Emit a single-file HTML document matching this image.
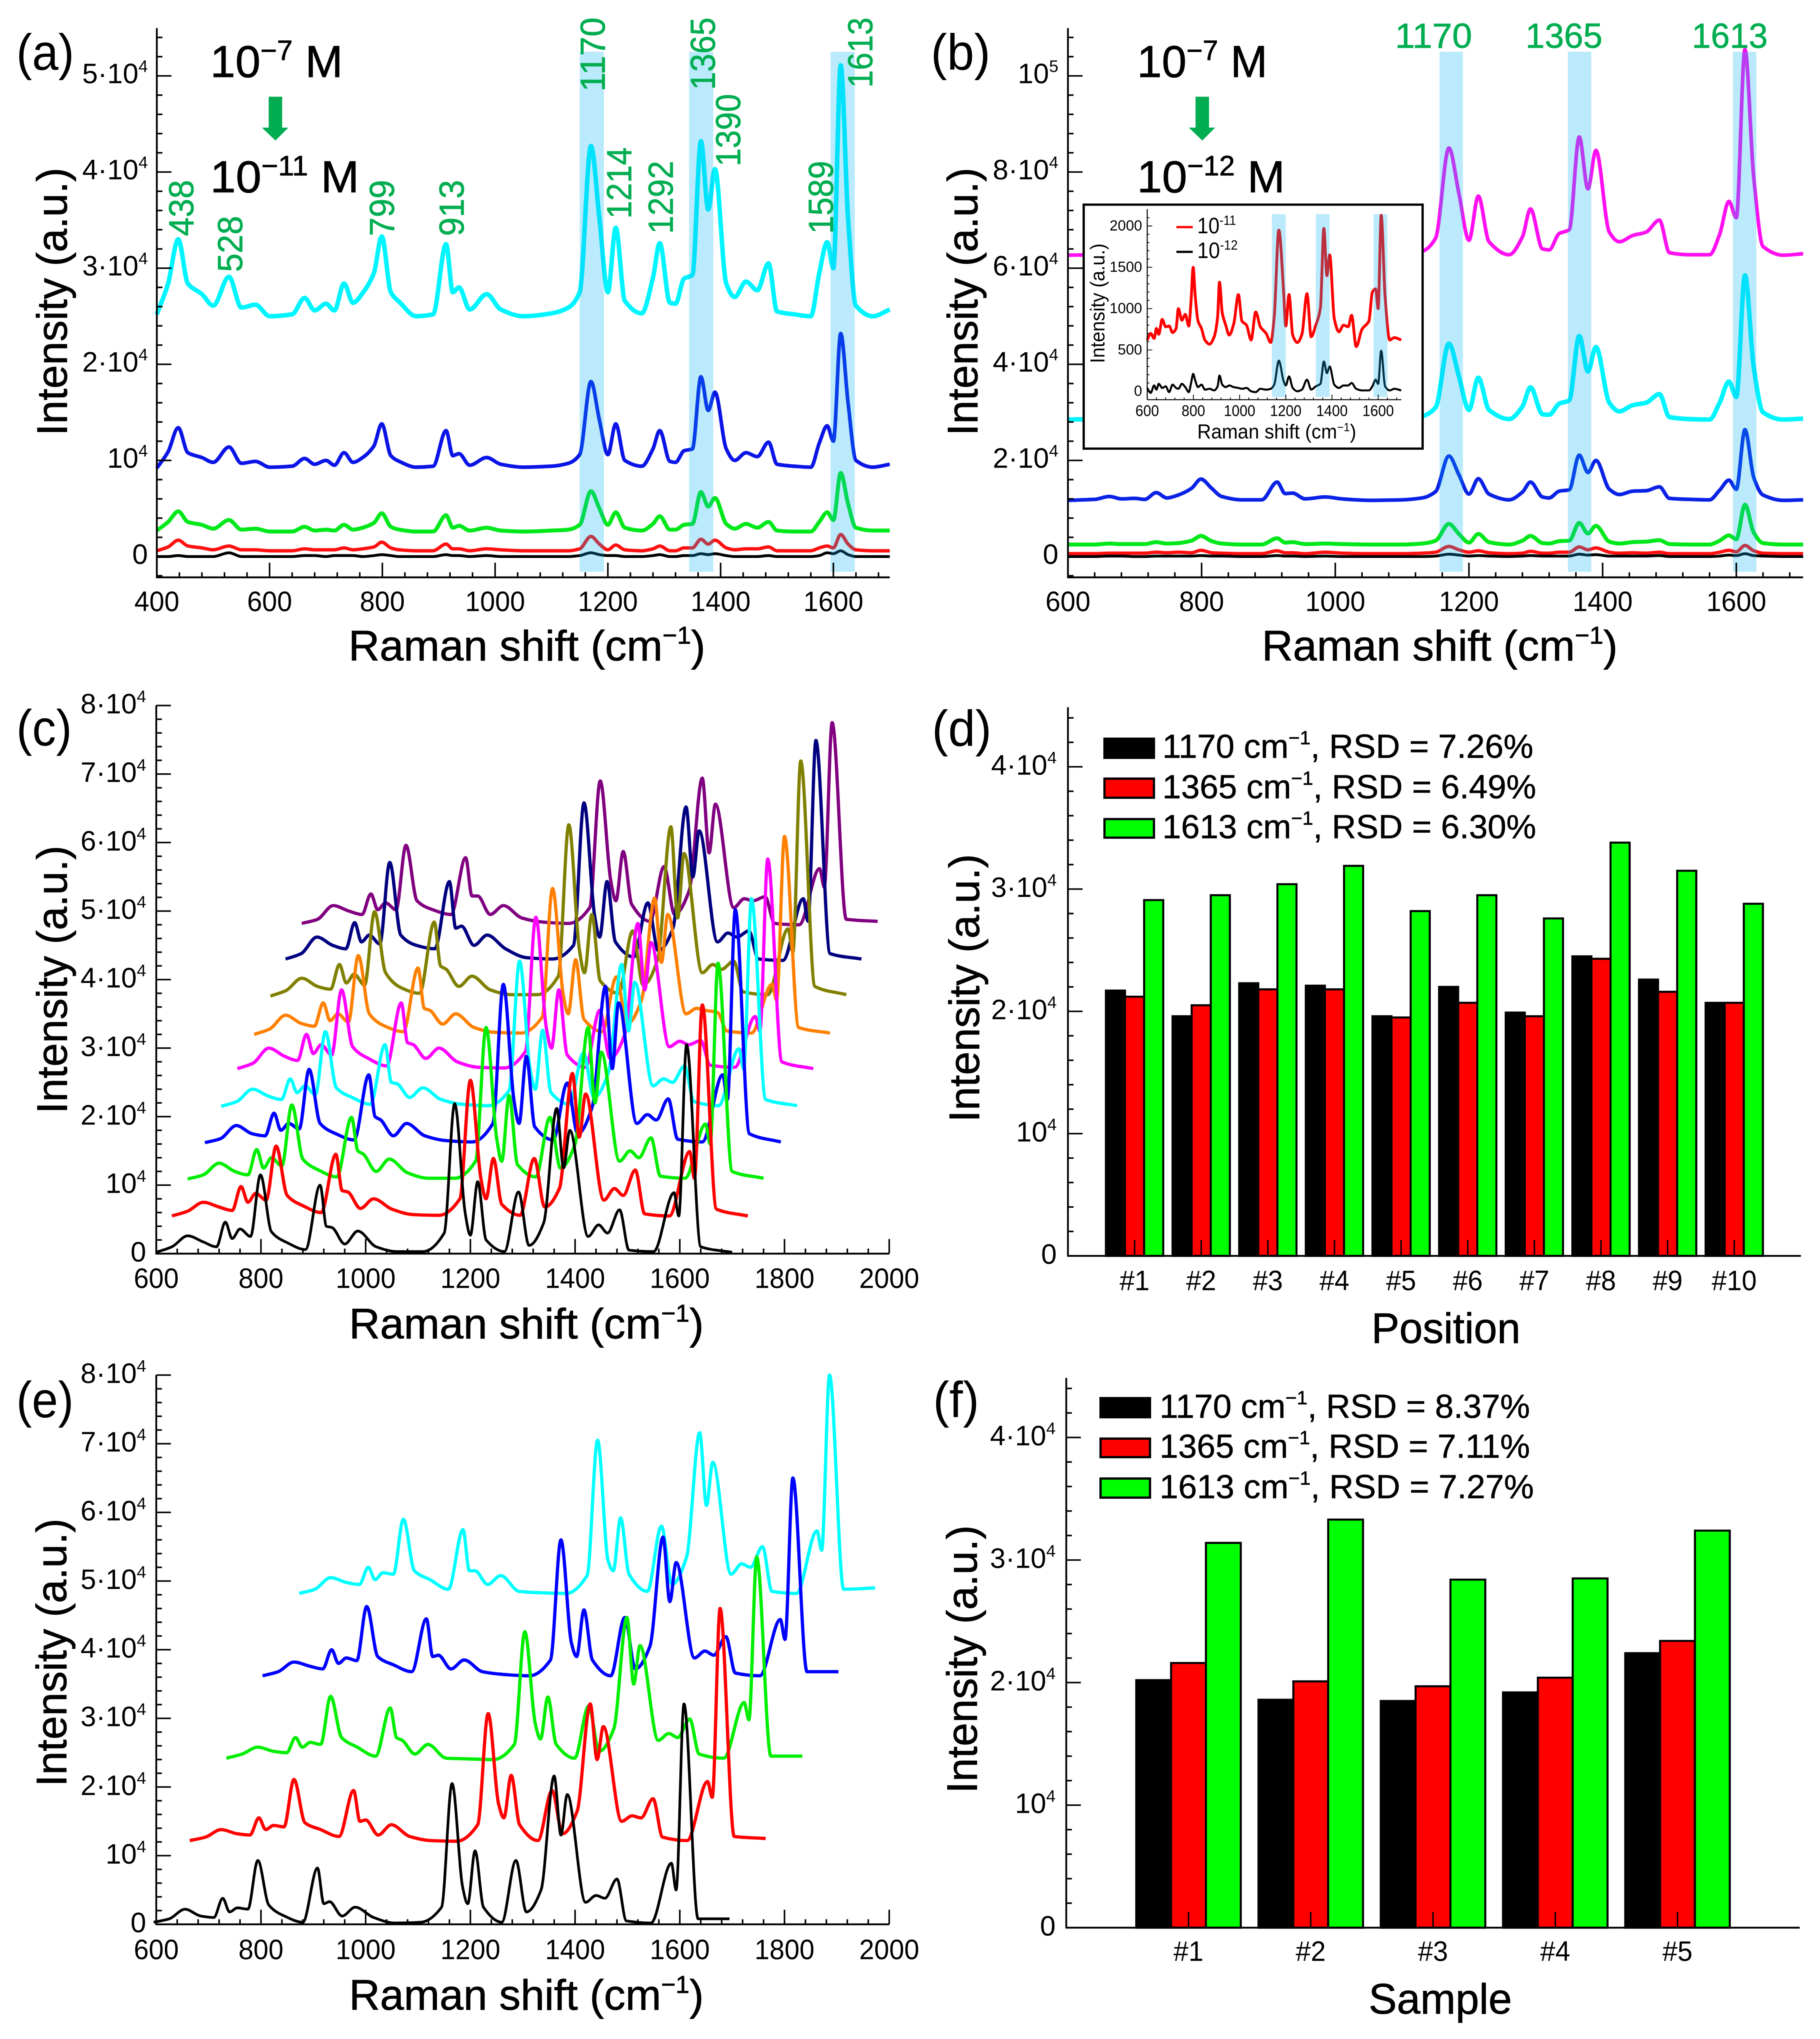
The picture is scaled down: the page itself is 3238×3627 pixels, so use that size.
<!DOCTYPE html>
<html lang="en">
<head>
<meta charset="utf-8">
<title>SERS Raman spectra and reproducibility figure</title>
<style>
html,body{margin:0;padding:0;background:#fff;}
svg{display:block;font-family:"Liberation Sans",Arial,sans-serif;filter:blur(0.7px);}
.letter{font-size:90px;fill:#000;}
.axis-title{font-size:76px;fill:#000;stroke:#000;stroke-width:.8px;}
.conc{font-size:80px;fill:#000;stroke:#000;stroke-width:.8px;}
.peak{font-size:62px;fill:#00ad50;stroke:#00ad50;stroke-width:.7px;}
.legend-text{font-size:59px;fill:#000;stroke:#000;stroke-width:.6px;}
</style>
</head>
<body>
<svg id="figure" xmlns="http://www.w3.org/2000/svg" width="3238" height="3627" viewBox="0 0 3238 3627">
  <rect x="0" y="0" width="3238" height="3627" fill="#fff"/>

  <g id="panel-a"></g>
  <g id="panel-b"></g>
  <g id="panel-c"></g>
  <g id="panel-d"></g>
  <g id="panel-e"></g>
  <g id="panel-f"></g>

  <g>
    <text class="letter" x="29" y="124" textLength="103" lengthAdjust="spacingAndGlyphs">(a)</text>
    <text class="letter" x="1656" y="124" textLength="106" lengthAdjust="spacingAndGlyphs">(b)</text>
    <text class="letter" x="29" y="1326" textLength="99" lengthAdjust="spacingAndGlyphs">(c)</text>
    <text class="letter" x="1658" y="1327" textLength="106" lengthAdjust="spacingAndGlyphs">(d)</text>
    <text class="letter" x="29" y="2521" textLength="102" lengthAdjust="spacingAndGlyphs">(e)</text>
    <text class="letter" x="1660" y="2521" textLength="82" lengthAdjust="spacingAndGlyphs">(f)</text>
  </g>

  <g>
    <text class="axis-title" x="620" y="1175" textLength="635" lengthAdjust="spacingAndGlyphs">Raman shift (cm<tspan font-size="44" dy="-30">−1</tspan><tspan dy="30">)</tspan></text>
    <text class="axis-title" x="2245" y="1175" textLength="633" lengthAdjust="spacingAndGlyphs">Raman shift (cm<tspan font-size="44" dy="-30">−1</tspan><tspan dy="30">)</tspan></text>
    <text class="axis-title" x="621" y="2381" textLength="631" lengthAdjust="spacingAndGlyphs">Raman shift (cm<tspan font-size="44" dy="-30">−1</tspan><tspan dy="30">)</tspan></text>
    <text class="axis-title" x="621" y="3575" textLength="631" lengthAdjust="spacingAndGlyphs">Raman shift (cm<tspan font-size="44" dy="-30">−1</tspan><tspan dy="30">)</tspan></text>
    <text class="axis-title" x="2440" y="2389" textLength="265" lengthAdjust="spacingAndGlyphs">Position</text>
    <text class="axis-title" x="2435" y="3582" textLength="255" lengthAdjust="spacingAndGlyphs">Sample</text>
    <text class="axis-title" transform="translate(119,775) rotate(-90)" textLength="477" lengthAdjust="spacingAndGlyphs">Intensity (a.u.)</text>
    <text class="axis-title" transform="translate(1739,775) rotate(-90)" textLength="477" lengthAdjust="spacingAndGlyphs">Intensity (a.u.)</text>
    <text class="axis-title" transform="translate(119,1981) rotate(-90)" textLength="477" lengthAdjust="spacingAndGlyphs">Intensity (a.u.)</text>
    <text class="axis-title" transform="translate(1742,1996) rotate(-90)" textLength="477" lengthAdjust="spacingAndGlyphs">Intensity (a.u.)</text>
    <text class="axis-title" transform="translate(118,3178) rotate(-90)" textLength="477" lengthAdjust="spacingAndGlyphs">Intensity (a.u.)</text>
    <text class="axis-title" transform="translate(1738,3190) rotate(-90)" textLength="477" lengthAdjust="spacingAndGlyphs">Intensity (a.u.)</text>
  </g>

  <g>
    <text class="conc" x="374" y="137" textLength="236" lengthAdjust="spacingAndGlyphs">10<tspan font-size="50" dy="-30">−7</tspan><tspan dy="30"> M</tspan></text>
    <polygon points="478,172 502,172 502,227 513,227 490,250 466,227 478,227" fill="#00ad50"/>
    <text class="conc" x="374" y="342" textLength="265" lengthAdjust="spacingAndGlyphs">10<tspan font-size="50" dy="-30">−11</tspan><tspan dy="30"> M</tspan></text>
  </g>
  <g>
    <text class="conc" x="2023" y="137" textLength="232" lengthAdjust="spacingAndGlyphs">10<tspan font-size="50" dy="-30">−7</tspan><tspan dy="30"> M</tspan></text>
    <polygon points="2127,172 2151,172 2151,227 2162,227 2139,250 2115,227 2127,227" fill="#00ad50"/>
    <text class="conc" x="2023" y="342" textLength="263" lengthAdjust="spacingAndGlyphs">10<tspan font-size="50" dy="-30">−12</tspan><tspan dy="30"> M</tspan></text>
  </g>

  <g>
    <text class="peak" transform="translate(344,420) rotate(-90)" textLength="100" lengthAdjust="spacingAndGlyphs">438</text>
    <text class="peak" transform="translate(431,484) rotate(-90)" textLength="100" lengthAdjust="spacingAndGlyphs">528</text>
    <text class="peak" transform="translate(701,420) rotate(-90)" textLength="100" lengthAdjust="spacingAndGlyphs">799</text>
    <text class="peak" transform="translate(825,420) rotate(-90)" textLength="100" lengthAdjust="spacingAndGlyphs">913</text>
    <text class="peak" transform="translate(1076,163) rotate(-90)" textLength="132" lengthAdjust="spacingAndGlyphs">1170</text>
    <text class="peak" transform="translate(1123,389) rotate(-90)" textLength="127" lengthAdjust="spacingAndGlyphs">1214</text>
    <text class="peak" transform="translate(1197,416) rotate(-90)" textLength="130" lengthAdjust="spacingAndGlyphs">1292</text>
    <text class="peak" transform="translate(1272,160) rotate(-90)" textLength="129" lengthAdjust="spacingAndGlyphs">1365</text>
    <text class="peak" transform="translate(1317,296) rotate(-90)" textLength="129" lengthAdjust="spacingAndGlyphs">1390</text>
    <text class="peak" transform="translate(1482,416) rotate(-90)" textLength="130" lengthAdjust="spacingAndGlyphs">1589</text>
    <text class="peak" transform="translate(1552,156) rotate(-90)" textLength="125" lengthAdjust="spacingAndGlyphs">1613</text>
  </g>
  <g>
    <text class="peak" x="2482" y="85" textLength="137" lengthAdjust="spacingAndGlyphs">1170</text>
    <text class="peak" x="2714" y="85" textLength="137" lengthAdjust="spacingAndGlyphs">1365</text>
    <text class="peak" x="3010" y="85" textLength="135" lengthAdjust="spacingAndGlyphs">1613</text>
  </g>

  <g>
    <rect x="1965" y="1314" width="88" height="34" fill="#000" stroke="#000" stroke-width="4"/>
    <text class="legend-text" x="2068" y="1348" textLength="660" lengthAdjust="spacingAndGlyphs">1170 cm<tspan font-size="34" dy="-24">−1</tspan><tspan dy="24">, RSD = 7.26%</tspan></text>
    <rect x="1965" y="1385" width="88" height="34" fill="#ff0000" stroke="#000" stroke-width="4"/>
    <text class="legend-text" x="2068" y="1420" textLength="665" lengthAdjust="spacingAndGlyphs">1365 cm<tspan font-size="34" dy="-24">−1</tspan><tspan dy="24">, RSD = 6.49%</tspan></text>
    <rect x="1965" y="1457" width="88" height="33" fill="#00ff00" stroke="#000" stroke-width="4"/>
    <text class="legend-text" x="2068" y="1491" textLength="665" lengthAdjust="spacingAndGlyphs">1613 cm<tspan font-size="34" dy="-24">−1</tspan><tspan dy="24">, RSD = 6.30%</tspan></text>
  </g>
  <g>
    <rect x="1958" y="2487" width="88" height="34" fill="#000" stroke="#000" stroke-width="4"/>
    <text class="legend-text" x="2063" y="2522" textLength="659" lengthAdjust="spacingAndGlyphs">1170 cm<tspan font-size="34" dy="-24">−1</tspan><tspan dy="24">, RSD = 8.37%</tspan></text>
    <rect x="1958" y="2559" width="88" height="33" fill="#ff0000" stroke="#000" stroke-width="4"/>
    <text class="legend-text" x="2063" y="2593" textLength="659" lengthAdjust="spacingAndGlyphs">1365 cm<tspan font-size="34" dy="-24">−1</tspan><tspan dy="24">, RSD = 7.11%</tspan></text>
    <rect x="1958" y="2630" width="88" height="34" fill="#00ff00" stroke="#000" stroke-width="4"/>
    <text class="legend-text" x="2063" y="2665" textLength="666" lengthAdjust="spacingAndGlyphs">1613 cm<tspan font-size="34" dy="-24">−1</tspan><tspan dy="24">, RSD = 7.27%</tspan></text>
  </g>

  <g id="inset">
    <rect x="1928" y="364" width="603" height="434" fill="#fff" stroke="#000" stroke-width="4"/>
    <g id="inset-plot"></g>
    <text x="2130" y="780" font-size="36" textLength="283" lengthAdjust="spacingAndGlyphs">Raman shift (cm<tspan font-size="21" dy="-13">−1</tspan><tspan dy="13">)</tspan></text>
    <text transform="translate(1965,646) rotate(-90)" font-size="36" textLength="213" lengthAdjust="spacingAndGlyphs">Intensity (a.u.)</text>
    <line x1="2093" y1="404" x2="2122" y2="404" stroke="#ff0000" stroke-width="4"/>
    <text x="2130" y="415" font-size="40" textLength="69" lengthAdjust="spacingAndGlyphs">10<tspan font-size="24" dy="-15">-11</tspan></text>
    <line x1="2093" y1="448" x2="2122" y2="448" stroke="#000" stroke-width="4"/>
    <text x="2130" y="459" font-size="40" textLength="72" lengthAdjust="spacingAndGlyphs">10<tspan font-size="24" dy="-15">-12</tspan></text>
  </g>
</svg>

<script>
/* ---------- Panel (a): wavenumber axis and intensities (units of 10^4) ---------- */
const ramanTicksA = [400, 600, 800, 1000, 1200, 1400, 1600];
const intensityTicksA = [0, 1, 2, 3, 4, 5];
const shiftA = [400,420,438,455,480, 500,528,550,575,600, 640,662,680,700,715, 732,748,765,785,799, 815,830,860,890,913, 925,936,955,985,1010, 1050,1100,1130,1150,1170, 1185,1200,1214,1230,1260, 1280,1292,1310,1320,1335, 1350,1365,1378,1390,1410, 1425,1445,1465,1485,1500, 1530,1560,1575,1589,1600, 1613,1626,1640,1670,1700];
const seriesACyan = [2.52,2.84,3.30,2.84,2.73, 2.61,2.91,2.59,2.62,2.50, 2.52,2.69,2.56,2.63,2.56, 2.84,2.64,2.74,2.95,3.33, 2.75,2.65,2.50,2.52,3.25, 2.75,2.80,2.57,2.73,2.57, 2.50,2.53,2.59,2.75,4.27, 3.52,2.75,3.42,2.66,2.53, 2.90,3.26,2.64,2.63,2.89, 2.93,4.32,3.61,4.03,2.84, 2.70,2.86,2.77,3.05,2.55, 2.52,2.50,2.95,3.27,3.00, 5.11,3.52,2.61,2.50,2.57];
const seriesABlue = [.92,1.09,1.34,1.08,1.03, .98,1.14,.97,.99,.93, .94,1.02,.96,1.00,.95, 1.08,.98,1.03,1.15,1.38, 1.05,.99,.93,.94,1.31, 1.05,1.07,.95,1.03,.96, .93,.94,.97,1.06,1.82, 1.42,1.06,1.38,1.00,.94, 1.12,1.31,.99,.98,1.10, 1.12,1.87,1.52,1.71,1.12, 1.00,1.08,1.04,1.19,.96, .94,.93,1.18,1.36,1.20, 2.32,1.60,1.00,.93,.96];
const seriesAGreen = [.27,.36,.47,.36,.33, .29,.38,.28,.29,.26, .26,.31,.27,.28,.27, .33,.28,.30,.35,.45, .31,.28,.26,.26,.43, .30,.32,.27,.30,.27, .26,.27,.28,.33,.68, .50,.33,.46,.30,.27, .34,.42,.28,.28,.33, .34,.67,.52,.61,.34, .29,.34,.30,.36,.27, .26,.26,.36,.46,.38, .87,.55,.30,.27,.27];
const seriesARed = [.06,.10,.17,.11,.09, .07,.11,.07,.07,.06, .06,.08,.07,.07,.07, .09,.07,.08,.10,.15, .09,.07,.06,.06,.13, .08,.08,.06,.08,.07, .06,.06,.06,.08,.21, .13,.07,.12,.07,.06, .08,.11,.06,.06,.09, .09,.18,.13,.17,.09, .07,.08,.08,.10,.06, .06,.06,.09,.11,.09, .23,.13,.07,.06,.06];
const seriesABlack = [0,0,.01,0,0, 0,.04,0,0,0, 0,.01,.01,0,.01, .01,.01,0,.01,.02, .01,0,0,0,.02, .01,.01,0,.01,0, 0,0,0,.01,.04, .02,.01,.01,0,0, .01,.02,0,0,.01, .01,.03,.02,.03,.01, 0,0,0,.01,0, 0,0,.01,.04,.03, .06,.02,0,0,0];
const bandsA = [[1150,1193],[1344,1387],[1595,1638]];

/* ---------- Panel (b) ---------- */
const ramanTicksB = [600, 800, 1000, 1200, 1400, 1600];
const intensityTicksB = [0, 2, 4, 6, 8, 10];
const shiftB = [600,640,662,680,700, 715,732,748,765,785, 799,815,830,860,890, 913,925,936,955,985, 1010,1050,1100,1130,1150, 1170,1185,1200,1214,1230, 1260,1280,1292,1310,1320, 1335,1350,1365,1378,1390, 1410,1425,1445,1465,1485, 1500,1530,1560,1575,1589, 1600,1613,1626,1640,1670, 1700];
const seriesBMagenta = [6.27,6.28,6.33,6.29,6.30, 6.28,6.40,6.30,6.35,6.34, 6.60,6.35,6.31,6.27,6.27, 6.55,6.35,6.38,6.28,6.32, 6.28,6.27,6.28,6.35,6.62, 8.50,7.55,6.58,7.50,6.55, 6.28,6.65,7.23,6.40,6.38, 6.72,6.80,8.73,7.65,8.45, 6.75,6.55,6.68,6.75,7.00, 6.32,6.28,6.28,6.70,7.39, 7.05,10.55,7.90,6.45,6.27, 6.30];
const seriesBCyan = [2.85,2.86,2.90,2.87,2.88, 2.86,2.94,2.87,2.91,2.90, 3.10,2.90,2.88,2.85,2.85, 3.05,2.92,2.93,2.85,2.89, 2.86,2.85,2.86,2.92,3.10, 4.43,3.75,3.05,3.72,3.05, 2.86,3.12,3.52,2.96,2.95, 3.18,3.25,4.59,3.85,4.36, 3.20,3.02,3.15,3.20,3.38, 2.90,2.86,2.85,3.20,3.64, 3.32,5.85,3.95,3.00,2.85, 2.87];
const seriesBBlue = [1.17,1.19,1.25,1.20,1.21, 1.19,1.33,1.22,1.28,1.42, 1.61,1.42,1.25,1.18,1.18, 1.55,1.31,1.32,1.20,1.24, 1.20,1.17,1.18,1.22,1.35, 2.09,1.70,1.30,1.62,1.30, 1.18,1.34,1.55,1.24,1.22, 1.36,1.39,2.11,1.75,2.00, 1.40,1.29,1.36,1.37,1.45, 1.21,1.19,1.18,1.38,1.59, 1.40,2.64,1.65,1.28,1.17, 1.18];
const seriesBGreen = [.25,.25,.27,.26,.26, .26,.30,.27,.28,.33, .43,.32,.27,.25,.25, .38,.29,.30,.26,.27, .26,.25,.25,.27,.33, .68,.47,.29,.47,.30, .25,.33,.43,.28,.27, .32,.33,.70,.48,.64, .31,.27,.30,.31,.34, .26,.25,.25,.33,.44, .36,1.08,.50,.28,.25, .25];
const seriesBRed = [.06,.06,.07,.07,.07, .07,.09,.08,.09,.08, .13,.08,.07,.06,.06, .12,.08,.08,.06,.09, .07,.06,.06,.07,.09, .21,.14,.09,.12,.08, .06,.07,.11,.07,.07, .09,.09,.20,.14,.18, .09,.07,.08,.07,.09, .06,.06,.06,.09,.13, .10,.23,.12,.07,.06, .06];
const seriesBBlack = [0,0,.01,.01,0, 0,.01,.01,.01,.01, .02,.01,.01,0,0, .02,.01,.01,0,.01, 0,0,0,0,.01, .05,.03,.01,.02,.01, 0,.01,.02,.01,.01, .01,.01,.05,.03,.04, .01,.01,.01,.01,.02, 0,0,0,.01,.03, .02,.06,.02,.01,0, 0];
const bandsB = [[1156,1191],[1348,1383],[1595,1630]];

/* ---------- Inset of panel (b): counts ---------- */
const ramanTicksInset = [600, 800, 1000, 1200, 1400, 1600];
const countTicksInset = [0, 500, 1000, 1500, 2000];
const shiftInset = [600,615,630,640,650, 665,680,695,710,725, 735,750,765,780,790, 799,808,820,835,850, 870,890,905,913,925, 940,955,975,995,1010, 1030,1050,1070,1090,1115, 1135,1150,1170,1190,1200, 1214,1230,1250,1270,1292, 1310,1330,1350,1365,1378, 1390,1410,1430,1450,1470, 1485,1505,1530,1560,1575, 1589,1600,1613,1630,1650, 1670,1700];
const insetRed = [620,700,640,760,690, 870,780,790,710,760, 1000,860,930,790,1100, 1500,1150,850,760,620, 570,660,900,1320,950, 800,680,820,1170,850, 800,620,960,780,700, 590,900,1950,1240,790, 1170,680,590,690,1180, 660,800,1010,1970,1400, 1650,880,720,800,780, 920,540,750,850,1200, 1240,1000,2130,1150,620, 650,620];
const insetBlack = [40,-20,70,20,90, 40,60,-10,80,40, 30,90,50,-10,100, 210,130,50,80,20, 30,10,60,190,80, 50,70,50,40,30, 40,0,-10,30,20, 30,80,370,130,70, 180,40,0,20,140, 20,60,90,360,220, 300,80,40,70,70, 100,30,10,10,60, 140,90,490,60,10, 30,10];
const bandsInset = [[1140,1200],[1330,1390],[1580,1640]];

/* ---------- Panels (c) and (e): stacked spectra on a common wavenumber grid ---------- */
const ramanTicksStack = [600, 800, 1000, 1200, 1400, 1600, 1800, 2000];
const intensityTicksStack = [0, 1, 2, 3, 4, 5, 6, 7, 8];
const shiftStack = [600,630,660,690,715, 732,745,760,780,799, 820,850,885,913,925, 936,960,985,1020,1060, 1110,1150,1170,1190,1200, 1214,1230,1265,1292,1312, 1340,1365,1378,1390,1425, 1445,1462,1485,1503,1550, 1589,1598,1613,1640,1700];
const stackShiftC = [0, 30, 60, 93, 124, 155, 187, 218, 247, 278];
const stackC1 = [.02,.10,.26,.17,.10, .46,.22,.36,.25,1.15, .32,.16,.06,1.00,.40, .38,.14,.33,.10,.03, .03,.30,2.19,.60,.27, 1.05,.20,.03,.90,.12, .45,2.12,1.25,1.80,.25, .42,.30,.64,.05,.03, .89,.55,3.05,.10,.02];
const stackC2 = [.55,.62,.75,.68,.63, .98,.75,.88,.78,1.57, .85,.70,.60,1.45,.92, .90,.66,.80,.65,.57, .56,.80,2.53,1.10,.80, 1.39,.72,.56,1.39,.68, .95,2.63,1.70,2.33,.78, .95,.85,1.22,.58,.55, 1.49,1.10,3.63,.65,.55];
const stackC3 = [1.09,1.15,1.32,1.20,1.15, 1.52,1.25,1.40,1.28,2.17, 1.38,1.22,1.12,1.99,1.50, 1.45,1.20,1.38,1.18,1.10, 1.10,1.35,3.30,1.70,1.35, 2.31,1.30,1.12,1.99,1.25, 1.60,3.30,2.20,2.94,1.35, 1.50,1.40,1.69,1.13,1.10, 1.89,1.60,4.24,1.20,1.10];
const stackC4 = [1.62,1.68,1.87,1.75,1.72, 2.05,1.80,1.90,1.82,2.69, 1.90,1.75,1.66,2.61,2.00, 1.95,1.72,1.90,1.72,1.65, 1.63,1.90,3.93,2.25,1.90, 2.88,1.85,1.66,2.49,1.75, 2.15,3.90,2.70,3.66,1.90, 2.03,1.95,2.26,1.67,1.63, 2.61,2.25,5.02,1.75,1.63];
const stackC5 = [2.15,2.22,2.40,2.30,2.25, 2.55,2.35,2.45,2.32,3.24, 2.42,2.28,2.18,3.05,2.50, 2.48,2.28,2.42,2.25,2.18, 2.16,2.38,4.27,2.70,2.40, 3.26,2.35,2.18,2.93,2.28, 2.65,4.22,3.25,3.96,2.45, 2.55,2.50,2.74,2.22,2.16, 2.99,2.70,5.18,2.25,2.16];
const stackC6 = [2.70,2.78,3.00,2.88,2.82, 3.20,2.92,3.05,2.90,3.85, 3.02,2.85,2.74,3.66,3.08, 3.05,2.85,3.00,2.80,2.72, 2.71,2.95,4.91,3.30,3.00, 3.85,2.90,2.72,3.55,2.85, 3.20,4.82,3.85,4.54,3.02, 3.10,3.05,3.11,2.75,2.72, 3.46,3.25,5.76,2.80,2.70];
const stackC7 = [3.20,3.28,3.48,3.36,3.32, 3.66,3.40,3.50,3.38,4.35, 3.50,3.32,3.24,4.17,3.58, 3.55,3.35,3.50,3.30,3.23, 3.22,3.45,5.33,3.80,3.50, 4.29,3.42,3.24,4.04,3.35, 3.70,5.19,4.25,4.95,3.50, 3.58,3.55,3.52,3.25,3.22, 3.93,3.70,6.09,3.30,3.22];
const stackC8 = [3.76,3.84,4.02,3.90,3.86, 4.22,3.95,4.08,3.92,4.99, 4.10,3.88,3.80,4.84,4.20, 4.15,3.90,4.05,3.85,3.78, 3.78,4.05,6.26,4.45,4.10, 4.95,3.98,3.80,4.71,3.92, 4.30,6.23,4.90,5.84,4.10, 4.22,4.15,4.27,3.82,3.78, 4.74,4.40,7.19,3.90,3.78];
const stackC9 = [4.30,4.38,4.62,4.50,4.45, 4.83,4.55,4.65,4.52,5.71, 4.65,4.50,4.45,5.43,4.75, 4.78,4.50,4.65,4.45,4.32, 4.30,4.50,6.58,4.95,4.62, 5.43,4.55,4.33,5.12,4.42, 4.75,6.52,5.50,6.17,4.55, 4.68,4.62,4.71,4.30,4.28, 5.18,4.85,7.49,4.38,4.30];
const stackC10 = [4.82,4.88,5.08,5.00,4.95, 5.25,5.02,5.12,5.02,5.96, 5.15,5.02,4.95,5.78,5.22, 5.22,4.95,5.08,4.90,4.84, 4.82,5.05,6.90,5.45,5.15, 5.87,5.10,4.85,5.65,4.95, 5.30,6.94,5.85,6.56,5.05, 5.18,5.15,5.21,4.82,4.80, 5.62,5.35,7.75,4.88,4.85];
const stackShiftE = [-5, 64, 134, 203, 273];
const stackE1 = [.03,.08,.22,.12,.10, .38,.18,.24,.22,.93, .28,.12,.03,.82,.30, .33,.12,.25,.10,.02, .03,.25,2.05,.55,.30, 1.07,.25,.03,.93,.18, .50,2.16,1.30,1.89,.32, .42,.38,.66,.05,.02, .89,.50,3.21,.08,.08];
const stackE2 = [1.22,1.27,1.38,1.32,1.30, 1.55,1.38,1.44,1.42,2.11, 1.48,1.38,1.28,1.95,1.50, 1.52,1.30,1.45,1.28,1.22, 1.21,1.45,3.07,1.75,1.55, 2.17,1.45,1.22,1.95,1.32, 1.65,3.21,2.40,2.88,1.50, 1.58,1.55,1.83,1.27,1.22, 2.08,1.85,4.60,1.28,1.25];
const stackE3 = [2.42,2.48,2.58,2.52,2.50, 2.72,2.58,2.65,2.62,3.32, 2.72,2.58,2.45,3.15,2.72, 2.68,2.48,2.62,2.42,2.41, 2.40,2.62,4.26,2.92,2.70, 3.31,2.62,2.42,3.18,2.52, 2.85,4.47,3.50,4.06,2.68, 2.78,2.72,2.99,2.48,2.42, 3.23,2.98,5.35,2.45,2.45];
const stackE4 = [3.62,3.68,3.82,3.76,3.72, 4.00,3.80,3.88,3.84,4.63, 3.90,3.78,3.68,4.45,3.90, 3.92,3.72,3.85,3.68,3.64, 3.62,3.85,5.60,4.10,3.90, 4.58,3.85,3.62,4.47,3.72, 4.05,5.64,4.70,5.27,3.88, 3.98,3.92,4.19,3.66,3.62, 4.44,4.15,6.50,3.68,3.68];
const stackE5 = [4.82,4.88,5.05,4.98,4.95, 5.20,5.02,5.12,5.10,5.90, 5.15,5.02,4.88,5.75,5.15, 5.15,4.95,5.08,4.85,4.83, 4.82,5.08,7.05,5.30,5.15, 5.92,5.10,4.85,5.80,4.95, 5.35,7.16,6.10,6.73,5.10, 5.25,5.20,5.50,4.85,4.82, 5.73,5.45,8.00,4.88,4.90];

/* ---------- Panels (d) and (f): bar charts (units of 10^4) ---------- */
const intensityTicksBars = [0, 1, 2, 3, 4];
const positionLabels = ['#1','#2','#3','#4','#5','#6','#7','#8','#9','#10'];
const position1170 = [2.17,1.96,2.23,2.21,1.96,2.20,1.99,2.45,2.26,2.07];
const position1365 = [2.12,2.05,2.18,2.18,1.95,2.07,1.96,2.43,2.16,2.07];
const position1613 = [2.91,2.95,3.04,3.19,2.82,2.95,2.76,3.38,3.15,2.88];
const sampleLabels = ['#1','#2','#3','#4','#5'];
const sample1170 = [2.02,1.86,1.85,1.92,2.24];
const sample1365 = [2.16,2.01,1.97,2.04,2.34];
const sample1613 = [3.14,3.33,2.84,2.85,3.24];

/* ---------- Drawing helpers ---------- */
const SVGNS = 'http://www.w3.org/2000/svg';
function linear(d0, d1, r0, r1) { return v => r0 + (v - d0) * (r1 - r0) / (d1 - d0); }
function make(tag, parent, name) {
  const el = document.createElementNS(SVGNS, tag);
  
  
  parent.appendChild(el);
  return el;
}
function seg(parent, name, x1, y1, x2, y2, w, color) {
  const el = make('line', parent, name);
  el.setAttribute('x1', x1); el.setAttribute('y1', y1);
  el.setAttribute('x2', x2); el.setAttribute('y2', y2);
  el.setAttribute('stroke', color || '#000');
  el.setAttribute('stroke-width', w);
  return el;
}
function smoothPath(px, py) {
  const n = px.length, d = [], m = [];
  for (let i = 0; i < n - 1; i++) d.push((py[i + 1] - py[i]) / (px[i + 1] - px[i]));
  m[0] = d[0]; m[n - 1] = d[n - 2];
  for (let i = 1; i < n - 1; i++) m[i] = d[i - 1] * d[i] <= 0 ? 0 : 2 * d[i - 1] * d[i] / (d[i - 1] + d[i]);
  let s = 'M' + px[0].toFixed(1) + ' ' + py[0].toFixed(1);
  for (let i = 0; i < n - 1; i++) {
    const h = (px[i + 1] - px[i]) / 3;
    s += 'C' + (px[i] + h).toFixed(1) + ' ' + (py[i] + m[i] * h).toFixed(1) + ' ' +
      (px[i + 1] - h).toFixed(1) + ' ' + (py[i + 1] - m[i + 1] * h).toFixed(1) + ' ' +
      px[i + 1].toFixed(1) + ' ' + py[i + 1].toFixed(1);
  }
  return s;
}
function drawSpectrum(parent, name, xs, ys, xScale, yScale, color, width, xShift) {
  const el = make('path', parent, name);
  el.setAttribute('d', smoothPath(xs.map(v => xScale(v + (xShift || 0))), ys.map(yScale)));
  el.setAttribute('fill', 'none');
  el.setAttribute('stroke', color);
  el.setAttribute('stroke-width', width);
  el.setAttribute('stroke-linejoin', 'round');
  return el;
}
function drawBands(parent, prefix, bands, xScale, top, bottom, opacity) {
  bands.forEach((b, i) => {
    const el = make('rect', parent, prefix + '-band-' + (i + 1));
    el.setAttribute('x', xScale(b[0]));
    el.setAttribute('width', xScale(b[1]) - xScale(b[0]));
    el.setAttribute('y', top);
    el.setAttribute('height', bottom - top);
    el.setAttribute('fill', '#00b0f0');
    el.setAttribute('fill-opacity', opacity);
  });
}
function xTickLabel(parent, name, px, py, str, size, squeeze) {
  const el = make('text', parent, name);
  el.setAttribute('x', px); el.setAttribute('y', py);
  el.setAttribute('text-anchor', 'middle');
  el.setAttribute('font-size', size);
  el.setAttribute('textLength', (str.length * 0.556 * size * squeeze).toFixed(1));
  el.setAttribute('lengthAdjust', 'spacingAndGlyphs');
  el.textContent = str;
  return el;
}
function powerLabel(parent, name, px, py, v, base, exp) {
  const el = make('text', parent, name);
  el.setAttribute('x', px); el.setAttribute('y', py);
  el.setAttribute('text-anchor', 'end');
  el.setAttribute('font-size', 50);
  if (v === 0) { el.textContent = '0'; return el; }
  el.textContent = v === base ? '10' : (v + '·10');
  const sup = make('tspan', el, 'tick-exponent');
  sup.setAttribute('font-size', 30);
  sup.setAttribute('dy', -20);
  sup.textContent = exp;
  return el;
}
function verticalTicks(parent, prefix, d0, d1, step, majors, xScale, yPx) {
  for (let v = d0; v <= d1 + 0.001; v += step) {
    const major = majors.indexOf(v) >= 0;
    seg(parent, prefix + (major ? '-major-x-tick' : '-minor-x-tick'), xScale(v), yPx, xScale(v), yPx - (major ? 26 : 9), 2.8);
  }
}
function horizontalTicks(parent, prefix, d0, d1, step, majors, yScale, xPx) {
  const count = Math.round((d1 - d0) / step);
  for (let i = 0; i <= count; i++) {
    const v = +(d0 + i * step).toFixed(2);
    const major = majors.indexOf(v) >= 0;
    seg(parent, prefix + (major ? '-major-y-tick' : '-minor-y-tick'), xPx, yScale(v), xPx + (major ? 26 : 10), yScale(v), 2.8);
  }
}
function axesFrame(parent, prefix, xLeft, xRight, yTop, yBottom) {
  seg(parent, prefix + '-y-axis', xLeft, yTop, xLeft, yBottom + 1.5, 3.2);
  seg(parent, prefix + '-x-axis', xLeft, yBottom, xRight, yBottom, 3.2);
}
function drawBars(parent, prefix, groups, labels, seriesList, xScale, yScale, barW, labelY) {
  const colors = ['#000000', '#ff0000', '#00ff00'];
  const names = ['1170', '1365', '1613'];
  labels.forEach((lab, i) => {
    const cx = xScale(i + 1);
    seriesList.forEach((vals, s) => {
      const el = make('rect', groups, prefix + '-bar-' + names[s] + '-' + (i + 1));
      el.setAttribute('x', cx - 1.5 * barW + s * barW);
      el.setAttribute('y', yScale(vals[i]));
      el.setAttribute('width', barW);
      el.setAttribute('height', yScale(0) - yScale(vals[i]));
      el.setAttribute('fill', colors[s]);
      el.setAttribute('stroke', '#000');
      el.setAttribute('stroke-width', 3.6);
    });
    seg(groups, prefix + '-x-tick', cx, yScale(0), cx, yScale(0) - 28, 2.6);
    xTickLabel(groups, prefix + '-x-tick-label', cx, labelY, lab, 50, 0.96);
  });
}

/* ---------- Panel (a) ---------- */
(function () {
  const g = document.getElementById('panel-a');
  const x = linear(400, 1700, 279, 1583);
  const y = linear(0, 5, 990, 135);
  drawSpectrum(g, 'spectrum-a-cyan', shiftA, seriesACyan, x, y, '#00f5ff', 8);
  drawSpectrum(g, 'spectrum-a-blue', shiftA, seriesABlue, x, y, '#0a14e6', 6.5);
  drawSpectrum(g, 'spectrum-a-green', shiftA, seriesAGreen, x, y, '#00e81a', 7);
  drawSpectrum(g, 'spectrum-a-red', shiftA, seriesARed, x, y, '#ff1010', 6);
  drawSpectrum(g, 'spectrum-a-black', shiftA, seriesABlack, x, y, '#000', 5);
  drawBands(g, 'highlight-a', bandsA, x, 92, 1017, 0.27);
  axesFrame(g, 'a', 279, 1583, 50, 1027);
  verticalTicks(g, 'a', 400, 1700, 40, ramanTicksA, x, 1027);
  horizontalTicks(g, 'a', -0.2, 5.4, 0.2, intensityTicksA, y, 279);
  ramanTicksA.forEach(v => xTickLabel(g, 'a-x-tick-label', x(v), 1087, String(v), 50, 0.96));
  intensityTicksA.forEach(v => powerLabel(g, 'a-y-tick-label', 263, y(v) + 13, v, 1, '4'));
})();

/* ---------- Panel (b) ---------- */
(function () {
  const g = document.getElementById('panel-b');
  const x = linear(600, 1700, 1900, 3208);
  const y = linear(0, 10, 990, 135);
  drawSpectrum(g, 'spectrum-b-magenta', shiftB, seriesBMagenta, x, y, '#ff10f0', 6.5);
  drawSpectrum(g, 'spectrum-b-cyan', shiftB, seriesBCyan, x, y, '#00f5ff', 8);
  drawSpectrum(g, 'spectrum-b-blue', shiftB, seriesBBlue, x, y, '#0a22e6', 6.5);
  drawSpectrum(g, 'spectrum-b-green', shiftB, seriesBGreen, x, y, '#00e81a', 7);
  drawSpectrum(g, 'spectrum-b-red', shiftB, seriesBRed, x, y, '#ff1010', 6);
  drawSpectrum(g, 'spectrum-b-black', shiftB, seriesBBlack, x, y, '#000', 5);
  drawBands(g, 'highlight-b', bandsB, x, 92, 1017, 0.27);
  axesFrame(g, 'b', 1900, 3208, 50, 1027);
  verticalTicks(g, 'b', 600, 1700, 40, ramanTicksB, x, 1027);
  horizontalTicks(g, 'b', -0.4, 10.8, 0.4, intensityTicksB, y, 1900);
  ramanTicksB.forEach(v => xTickLabel(g, 'b-x-tick-label', x(v), 1087, String(v), 50, 0.96));
  intensityTicksB.forEach(v => powerLabel(g, 'b-y-tick-label', 1883, y(v) + 13, v, 10, v === 10 ? '5' : '4'));
})();

/* ---------- Inset ---------- */
(function () {
  const g = document.getElementById('inset-plot');
  const x = linear(600, 1700, 2041, 2493);
  const y = linear(0, 2000, 696, 402);
  drawSpectrum(g, 'inset-spectrum-high', shiftInset, insetRed, x, y, '#ff0000', 5);
  drawSpectrum(g, 'inset-spectrum-low', shiftInset, insetBlack, x, y, '#000', 3.6);
  drawBands(g, 'inset-highlight', bandsInset, x, 381, 706, 0.27);
  seg(g, 'inset-y-axis', 2041, 372, 2041, 711, 1.8);
  seg(g, 'inset-x-axis', 2041, 711, 2493, 711, 1.8);
  for (let v = 600; v <= 1700; v += 40) {
    const major = ramanTicksInset.indexOf(v) >= 0;
    seg(g, 'inset-x-tick', x(v), 711, x(v), 711 - (major ? 9 : 4), 1.4);
  }
  for (let v = 0; v <= 2100; v += 100) {
    const major = countTicksInset.indexOf(v) >= 0;
    seg(g, 'inset-y-tick', 2041, y(v), 2041 + (major ? 9 : 4), y(v), 1.4);
  }
  ramanTicksInset.forEach(v => xTickLabel(g, 'inset-x-tick-label', x(v), 740, String(v), 28, 0.9));
  countTicksInset.forEach(v => {
    const el = make('text', g, 'inset-y-tick-label');
    el.setAttribute('x', 2032);
    el.setAttribute('y', y(v) + 8);
    el.setAttribute('text-anchor', 'end');
    el.setAttribute('font-size', 26);
    el.textContent = String(v);
  });
})();

/* ---------- Panel (c) ---------- */
(function () {
  const g = document.getElementById('panel-c');
  const x = linear(600, 2000, 278, 1582);
  const y = linear(0, 8, 2230, 1255);
  const series = [stackC1, stackC2, stackC3, stackC4, stackC5, stackC6, stackC7, stackC8, stackC9, stackC10];
  const colors = ['#000000', '#ff0000', '#00ee00', '#0000ff', '#00ffff', '#ff00ff', '#ff8000', '#808000', '#000080', '#800080'];
  for (let i = series.length - 1; i >= 0; i--) {
    drawSpectrum(g, 'spectrum-c-' + (i + 1), shiftStack, series[i], x, y, colors[i], i === 0 ? 4.8 : 5.8, stackShiftC[i]);
  }
  axesFrame(g, 'c', 278, 1582, 1255, 2230);
  verticalTicks(g, 'c', 600, 2000, 40, ramanTicksStack, x, 2230);
  horizontalTicks(g, 'c', 0, 8, 0.2, intensityTicksStack, y, 278);
  ramanTicksStack.forEach(v => xTickLabel(g, 'c-x-tick-label', x(v), 2291, String(v), 50, 0.96));
  intensityTicksStack.forEach(v => powerLabel(g, 'c-y-tick-label', 260, y(v) + 14, v, 1, '4'));
})();

/* ---------- Panel (e) ---------- */
(function () {
  const g = document.getElementById('panel-e');
  const x = linear(600, 2000, 278, 1582);
  const y = linear(0, 8, 3423, 2446);
  const series = [stackE1, stackE2, stackE3, stackE4, stackE5];
  const colors = ['#000000', '#ff0000', '#00ee00', '#0000ff', '#00ffff'];
  for (let i = series.length - 1; i >= 0; i--) {
    drawSpectrum(g, 'spectrum-e-' + (i + 1), shiftStack, series[i], x, y, colors[i], i === 0 ? 4.8 : 5.8, stackShiftE[i]);
  }
  axesFrame(g, 'e', 278, 1582, 2446, 3423);
  verticalTicks(g, 'e', 600, 2000, 40, ramanTicksStack, x, 3423);
  horizontalTicks(g, 'e', 0, 8, 0.2, intensityTicksStack, y, 278);
  ramanTicksStack.forEach(v => xTickLabel(g, 'e-x-tick-label', x(v), 3485, String(v), 50, 0.96));
  intensityTicksStack.forEach(v => powerLabel(g, 'e-y-tick-label', 260, y(v) + 14, v, 1, '4'));
})();

/* ---------- Panel (d) ---------- */
(function () {
  const g = document.getElementById('panel-d');
  const x = linear(0, 11, 1900, 3204);
  const y = linear(0, 4, 2234, 1364);
  drawBars(g, 'd', g, positionLabels, [position1170, position1365, position1613], x, y, 34, 2295);
  axesFrame(g, 'd', 1900, 3204, 1258, 2234);
  horizontalTicks(g, 'd', 0, 4.4, 0.2, intensityTicksBars, y, 1900);
  intensityTicksBars.forEach(v => powerLabel(g, 'd-y-tick-label', 1880, y(v) + 14, v, 1, '4'));
})();

/* ---------- Panel (f) ---------- */
(function () {
  const g = document.getElementById('panel-f');
  const x = linear(0, 6, 1897, 3202);
  const y = linear(0, 4, 3429, 2557);
  drawBars(g, 'f', g, sampleLabels, [sample1170, sample1365, sample1613], x, y, 62, 3488);
  axesFrame(g, 'f', 1897, 3202, 2451, 3429);
  horizontalTicks(g, 'f', 0, 4.4, 0.2, intensityTicksBars, y, 1897);
  intensityTicksBars.forEach(v => powerLabel(g, 'f-y-tick-label', 1878, y(v) + 14, v, 1, '4'));
})();
</script>
</body>
</html>
